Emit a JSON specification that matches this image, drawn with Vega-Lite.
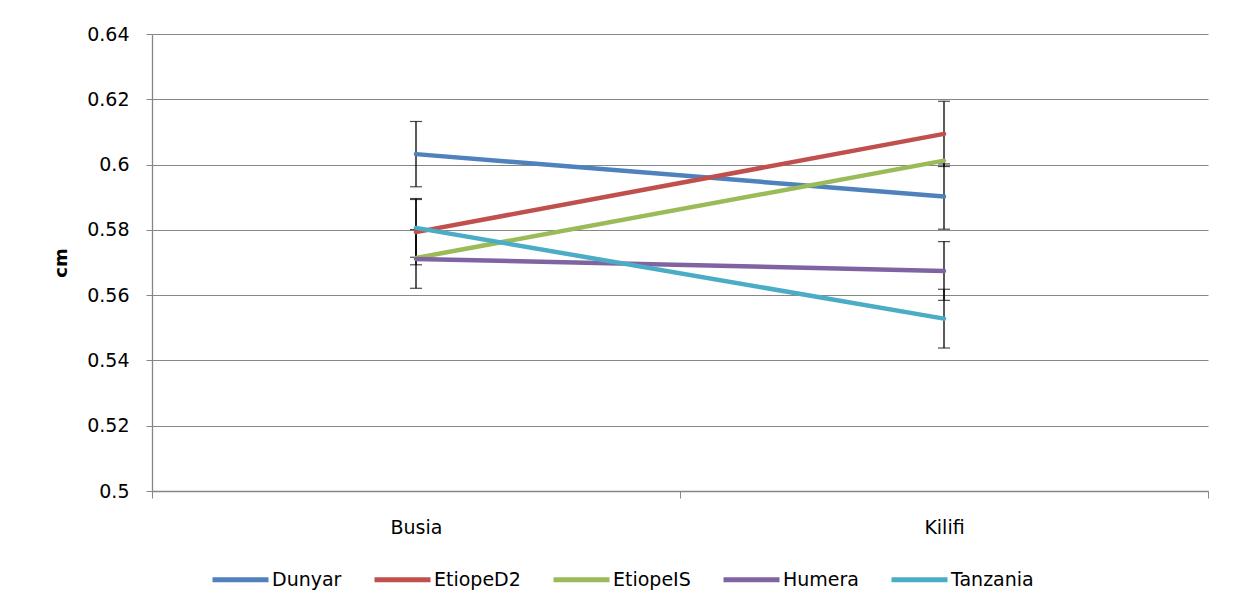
{
  "$schema": "https://vega.github.io/schema/vega-lite/v6.json",
  "width": 1056,
  "height": 457,
  "autosize": {"type": "none"},
  "padding": {"left": 152, "top": 34, "right": 26, "bottom": 123},
  "background": "white",
  "config": {
    "view": {"stroke": null},
    "font": "DejaVu Sans",
    "axis": {"labelFont": "DejaVu Sans", "labelColor": "black", "domainColor": "#868686", "tickColor": "#868686", "gridColor": "#868686", "gridWidth": 1, "domainWidth": 1.3}
  },
  "data": {
    "values": [
      {"site": "Busia", "variety": "Dunyar", "mean": 0.6032, "err": 0.0100},
      {"site": "Busia", "variety": "EtiopeD2", "mean": 0.5793, "err": 0.0100},
      {"site": "Busia", "variety": "EtiopeIS", "mean": 0.5714, "err": null},
      {"site": "Busia", "variety": "Humera", "mean": 0.5711, "err": 0.0090},
      {"site": "Busia", "variety": "Tanzania", "mean": 0.5806, "err": 0.0090},
      {"site": "Kilifi", "variety": "Dunyar", "mean": 0.5902, "err": 0.0100},
      {"site": "Kilifi", "variety": "EtiopeD2", "mean": 0.6094, "err": 0.0100},
      {"site": "Kilifi", "variety": "EtiopeIS", "mean": 0.6012, "err": null},
      {"site": "Kilifi", "variety": "Humera", "mean": 0.5674, "err": 0.0090},
      {"site": "Kilifi", "variety": "Tanzania", "mean": 0.5528, "err": 0.0090}
    ]
  },
  "encoding": {
    "x": {
      "field": "site", "type": "nominal",
      "scale": {"type": "band", "domain": ["Busia", "Kilifi"], "paddingInner": 0, "paddingOuter": 0},
      "axis": {"title": null, "labelAngle": 0, "tickBand": "extent", "tickSize": 7, "labelFontSize": 19, "labelPadding": 20, "grid": false}
    },
    "y": {
      "field": "mean", "type": "quantitative",
      "scale": {"domain": [0.5, 0.64], "nice": false, "zero": false},
      "axis": {"title": "cm", "titleFontSize": 18, "titleFontWeight": "bold", "titleColor": "black", "titlePadding": 16, "values": [0.5, 0.52, 0.54, 0.56, 0.58, 0.6, 0.62, 0.64], "format": ".2~f", "tickSize": 6, "labelFontSize": 19, "labelPadding": 17, "grid": true}
    }
  },
  "layer": [
    {
      "transform": [{"filter": "datum.err != null"}],
      "mark": {"type": "errorbar", "ticks": {"size": 12, "color": "black", "thickness": 1.2}, "rule": {"color": "black", "strokeWidth": 1.3}},
      "encoding": {
        "yError": {"field": "err"},
        "detail": {"field": "variety"}
      }
    },
    {
      "mark": {"type": "line", "strokeWidth": 4.5, "strokeCap": "round"},
      "encoding": {
        "color": {
          "field": "variety", "type": "nominal",
          "scale": {"domain": ["Dunyar", "EtiopeD2", "EtiopeIS", "Humera", "Tanzania"], "range": ["#4F81BD", "#C0504D", "#9BBB59", "#8064A2", "#4BACC6"]},
          "legend": {
            "title": null, "orient": "none", "direction": "horizontal", "legendX": 58, "legendY": 515,
            "symbolType": "stroke", "symbolSize": 3136, "symbolStrokeWidth": 5,
            "labelFontSize": 19, "labelColor": "black", "labelOffset": 1, "columnPadding": 22, "padding": 0
          }
        }
      }
    }
  ]
}
